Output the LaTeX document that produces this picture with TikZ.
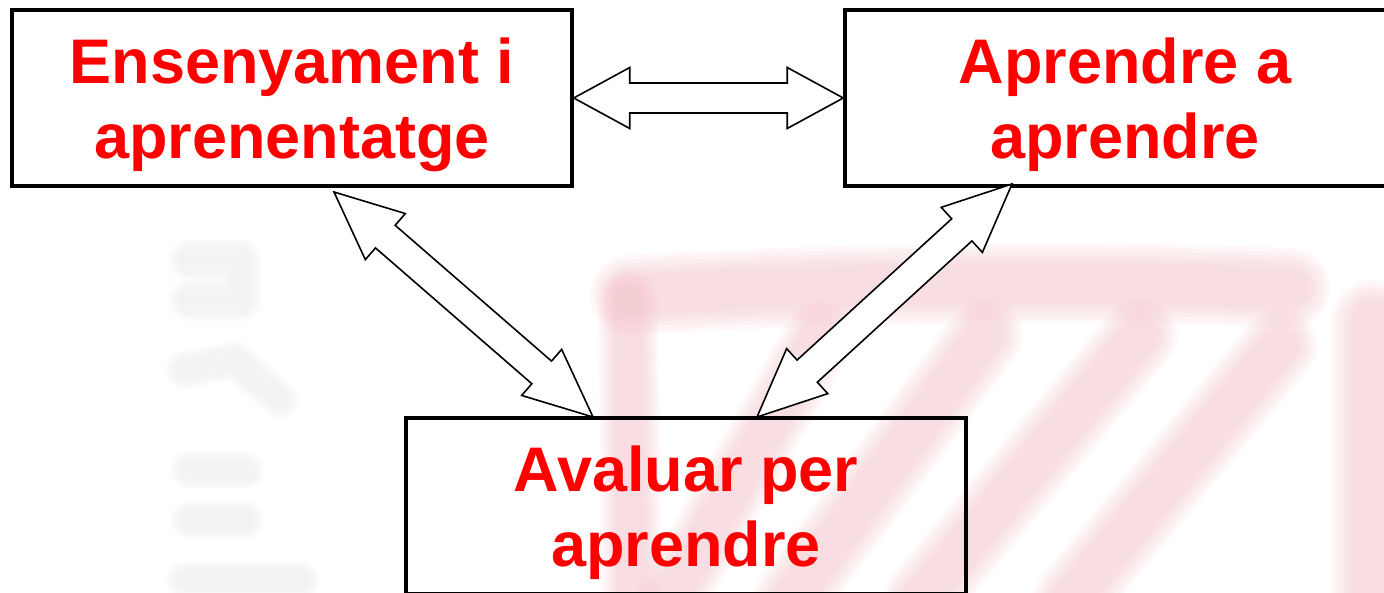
\documentclass[tikz,border=0pt]{standalone}
\usepackage{fontspec}
\setmainfont{Liberation Sans}
\usetikzlibrary{calc}
\definecolor{wmpink}{RGB}{242,190,198}
\definecolor{wmgrey}{RGB}{215,215,215}
\definecolor{labred}{RGB}{255,0,0}
\tikzset{
  box/.style={draw=black, line width=3.5pt, minimum width=560pt, minimum height=176pt,
    inner sep=0pt, align=center, text=labred, text depth=0pt,
    font=\fontsize{63}{74.5}\selectfont\bfseries},
  blockarrow/.style={draw=black, line width=1.6pt, fill=white, line join=miter},
  softpink/.style={wmpink, line cap=round, line join=round, opacity=0.11},
  softgrey/.style={wmgrey, line cap=round, line join=round, opacity=0.06},
}
% double block arrow between two points: #1,#2 points; #3 head length; #4 half shaft; #5 half head
\newcommand{\dblockarrow}[5]{%
  \draw[blockarrow] (#1)
    -- ($(#1)!#3!(#2)!#5!90:(#2)$)
    -- ($(#1)!#3!(#2)!#4!90:(#2)$)
    -- ($(#2)!#3!(#1)!#4!-90:(#1)$)
    -- ($(#2)!#3!(#1)!#5!-90:(#1)$)
    -- (#2)
    -- ($(#2)!#3!(#1)!#5!90:(#1)$)
    -- ($(#2)!#3!(#1)!#4!90:(#1)$)
    -- ($(#1)!#3!(#2)!#4!-90:(#2)$)
    -- ($(#1)!#3!(#2)!#5!-90:(#2)$)
    -- cycle;}
% soft stroke: #1 style, #2 width, #3 path
\newcommand{\softstroke}[3]{%
  \foreach \f in {1.0,0.9,0.8,0.7,0.6,0.5}{\draw[#1, line width=\f*#2] #3;}}
\begin{document}
\begin{tikzpicture}[x=1pt,y=-1pt]
\useasboundingbox (0,0) rectangle (1384,592);
\clip (0,0) rectangle (1384,592);
% faint watermark (pink)
\softstroke{softpink}{80pt}{(630,295) .. controls (850,282) and (1100,280) .. (1290,288)}
\softstroke{softpink}{80pt}{(1372,320) -- (1372,600)}
\softstroke{softpink}{75pt}{(1280,345) -- (1070,600)}
\softstroke{softpink}{75pt}{(1140,335) -- (920,600)}
\softstroke{softpink}{75pt}{(985,335) -- (790,600)}
\softstroke{softpink}{70pt}{(820,335) -- (670,600)}
\softstroke{softpink}{60pt}{(628,300) -- (632,600)}
% faint watermark (grey)
\softstroke{softgrey}{45pt}{(190,260) -- (240,260) -- (240,300) -- (190,300)}
\softstroke{softgrey}{40pt}{(185,370) -- (235,360) -- (280,400)}
\softstroke{softgrey}{40pt}{(190,470) -- (245,470)}
\softstroke{softgrey}{40pt}{(190,520) -- (245,520)}
\softstroke{softgrey}{40pt}{(185,580) -- (300,580)}
% boxes
\node[box] (b1) at (292,98) {Ensenyament i\\aprenentatge};
\node[box] (b2) at (1125,98) {Aprendre a\\aprendre};
\node[box] (b3) at (686,506) {Avaluar per\\aprendre};
% arrow end points
\coordinate (h1) at (b1.east);
\coordinate (h2) at (b2.west);
\coordinate (d1a) at (334,192);
\coordinate (d1b) at (593,417);
\coordinate (d2a) at (1012,184);
\coordinate (d2b) at (757,417);
\dblockarrow{h1}{h2}{56pt}{15pt}{30.5pt}
\dblockarrow{d1a}{d1b}{68pt}{15pt}{30.5pt}
\dblockarrow{d2a}{d2b}{68pt}{15pt}{30.5pt}
\end{tikzpicture}
\end{document}
